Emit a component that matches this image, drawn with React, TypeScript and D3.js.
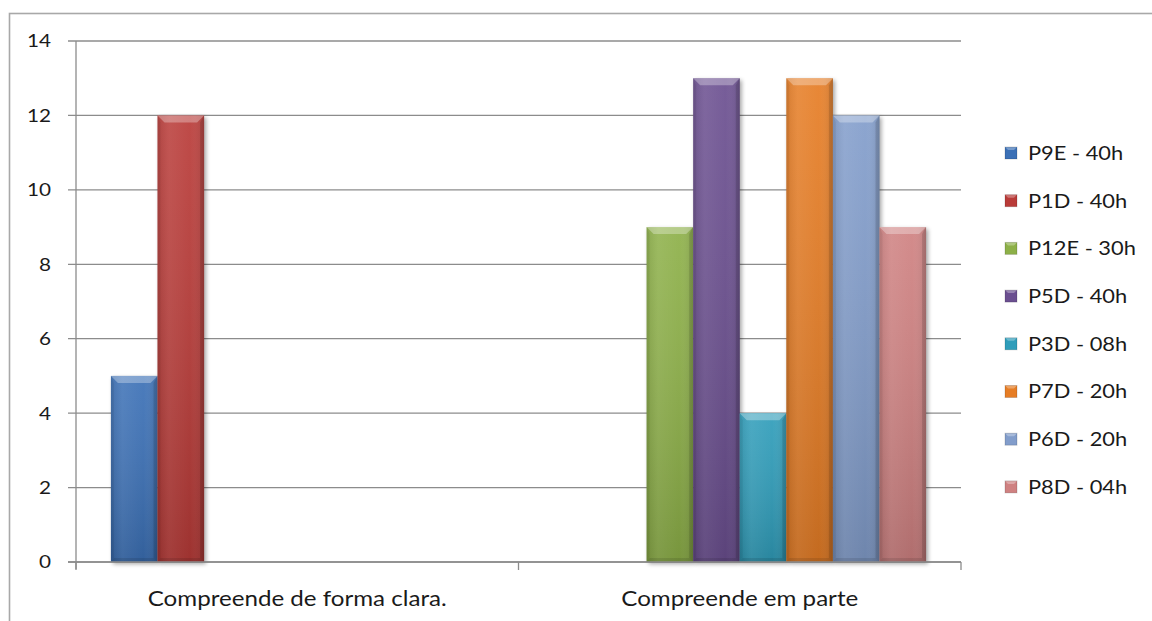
import React from "react";
import * as d3 from "d3";

const categories = ["Compreende de forma clara.", "Compreende em parte"];
const seriesNames = [
  "P9E - 40h",
  "P1D - 40h",
  "P12E - 30h",
  "P5D - 40h",
  "P3D - 08h",
  "P7D - 20h",
  "P6D - 20h",
  "P8D - 04h",
];
const seriesColors = [
  "#3B70B6",
  "#B93B38",
  "#8DB048",
  "#6B4F90",
  "#2F9DBA",
  "#E67D25",
  "#829DCB",
  "#CF8181",
];
// values per series: [category 1, category 2]
const P9E = [5, null];
const P1D = [12, null];
const P12E = [null, 9];
const P5D = [null, 13];
const P3D = [null, 4];
const P7D = [null, 13];
const P6D = [null, 12];
const P8D = [null, 9];
const seriesValues: (number | null)[][] = [P9E, P1D, P12E, P5D, P3D, P7D, P6D, P8D];
const yTicks = [0, 2, 4, 6, 8, 10, 12, 14];

const FONT = "Lato, 'Open Sans', sans-serif";
const SX = 1.15; // horizontal stretch of the text in the reference

export default function App() {
  const left = 76;
  const right = 961;
  const top = 41;
  const bottom = 562;

  const y = d3.scaleLinear().domain([0, 14]).range([bottom, top]);
  const x0 = d3.scaleBand<string>().domain(categories).range([left, right]).padding(0);
  const x1 = d3
    .scaleBand<string>()
    .domain(seriesNames)
    .range([0, x0.bandwidth()])
    .paddingInner(0)
    .paddingOuter(0.75);

  const bars: { x: number; y: number; w: number; h: number; c: string; key: string }[] = [];
  categories.forEach((cat, ci) => {
    seriesNames.forEach((s, si) => {
      const v = seriesValues[si][ci];
      if (v == null) return;
      const bx = (x0(cat) as number) + (x1(s) as number);
      const by = y(v);
      bars.push({ x: bx, y: by, w: x1.bandwidth(), h: bottom - by, c: seriesColors[si], key: s + ci });
    });
  });

  const bev = 7;

  return (
    <svg
      width={1152}
      height={621}
      style={{ position: "absolute", left: 0, top: 0, background: "#fff" }}
    >
      <defs>
        <filter id="shadow" x="-30%" y="-30%" width="160%" height="160%">
          <feGaussianBlur stdDeviation="2" />
        </filter>
        <linearGradient id="vshade" x1="0" y1="0" x2="0" y2="1">
          <stop offset="0" stopColor="#fff" stopOpacity="0.08" />
          <stop offset="1" stopColor="#000" stopOpacity="0.15" />
        </linearGradient>
        <linearGradient id="hshade" x1="0" y1="0" x2="1" y2="0">
          <stop offset="0" stopColor="#000" stopOpacity="0.08" />
          <stop offset="0.25" stopColor="#fff" stopOpacity="0.06" />
          <stop offset="0.7" stopColor="#fff" stopOpacity="0" />
          <stop offset="1" stopColor="#000" stopOpacity="0.12" />
        </linearGradient>
      </defs>
      {/* outer frame */}
      <rect x={9.5} y={13.5} width={1160} height={640} fill="none" stroke="#a8a8a8" strokeWidth={1.6} />

      {/* gridlines */}
      {yTicks.map((t) => (
        <line
          key={"g" + t}
          x1={68}
          x2={right}
          y1={y(t)}
          y2={y(t)}
          stroke="#8c8c8c"
          strokeWidth={1.3}
        />
      ))}
      {/* y axis */}
      <line x1={left} x2={left} y1={top} y2={bottom + 7} stroke="#8c8c8c" strokeWidth={1.3} />
      {/* x tick marks */}
      {[left, (x0(categories[1]) as number), right].map((xx, i) => (
        <line key={"xt" + i} x1={xx} x2={xx} y1={bottom} y2={bottom + 8} stroke="#8c8c8c" strokeWidth={1.3} />
      ))}

      {/* bars */}
      {bars.map((b) => (
        <g key={b.key}>
          <rect x={b.x + 2} y={b.y + 2} width={b.w} height={b.h} fill="#000" opacity={0.35} filter="url(#shadow)" />
        </g>
      ))}
      {bars.map((b) => (
        <g key={b.key + "b"}>
          <rect x={b.x} y={b.y} width={b.w} height={b.h} fill={b.c} />
          <rect x={b.x} y={b.y} width={b.w} height={b.h} fill="url(#vshade)" />
          <rect x={b.x} y={b.y} width={b.w} height={b.h} fill="url(#hshade)" />
          <polygon
            points={`${b.x},${b.y} ${b.x + b.w},${b.y} ${b.x + b.w - bev},${b.y + bev} ${b.x + bev},${b.y + bev}`}
            fill="#fff"
            opacity={0.3}
          />
          <polygon
            points={`${b.x + b.w},${b.y} ${b.x + b.w},${b.y + b.h} ${b.x + b.w - 4},${b.y + b.h - 4} ${b.x + b.w - 4},${b.y + bev}`}
            fill="#000"
            opacity={0.12}
          />
          <polygon
            points={`${b.x},${b.y} ${b.x + 3},${b.y + bev} ${b.x + 3},${b.y + b.h - 4} ${b.x},${b.y + b.h}`}
            fill="#000"
            opacity={0.06}
          />
          <polygon
            points={`${b.x},${b.y + b.h} ${b.x + b.w},${b.y + b.h} ${b.x + b.w - 4},${b.y + b.h - 4} ${b.x + 3},${b.y + b.h - 4}`}
            fill="#000"
            opacity={0.1}
          />
        </g>
      ))}
      <line x1={68} x2={right} y1={bottom} y2={bottom} stroke="#8c8c8c" strokeWidth={1.3} />

      {/* y tick labels */}
      {yTicks.map((t) => (
        <g key={"yl" + t} transform={`translate(51,${y(t)}) scale(${SX},1)`}>
          <text dy="0.36em" textAnchor="end" fontFamily={FONT} fontSize={18} fill="#1a1a1a">
            {t}
          </text>
        </g>
      ))}

      {/* category labels */}
      {categories.map((c) => (
        <g key={c} transform={`translate(${(x0(c) as number) + x0.bandwidth() / 2},606) scale(${SX},1)`}>
          <text textAnchor="middle" fontFamily={FONT} fontSize={21} fill="#1a1a1a">
            {c}
          </text>
        </g>
      ))}

      {/* legend */}
      {seriesNames.map((s, i) => {
        const cy = 153 + i * 47.7;
        return (
          <g key={"lg" + s}>
            <rect x={1005} y={cy - 6} width={12} height={12} fill={seriesColors[i]} />
            <polygon
              points={`${1005},${cy - 6} ${1017},${cy - 6} ${1014},${cy - 3} ${1008},${cy - 3}`}
              fill="#fff"
              opacity={0.3}
            />
            <rect x={1005} y={cy - 6} width={12} height={12} fill="none" stroke="#000" strokeOpacity={0.15} />
            <g transform={`translate(1028,${cy}) scale(${SX},1)`}>
              <text dy="0.36em" fontFamily={FONT} fontSize={19} fill="#1a1a1a">
                {s}
              </text>
            </g>
          </g>
        );
      })}
    </svg>
  );
}
